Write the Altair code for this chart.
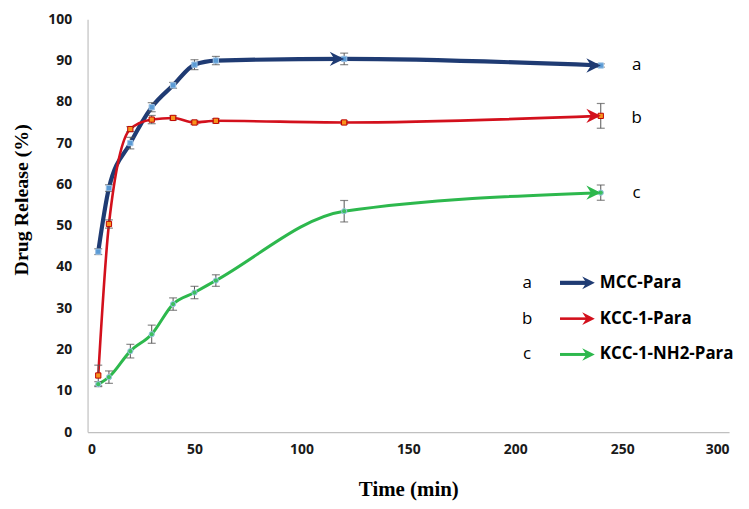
import altair as alt
import pandas as pd

# ---- data ----
time = [5, 10, 20, 30, 40, 50, 60, 120, 240]

series_names = ["MCC-Para", "KCC-1-Para", "KCC-1-NH2-Para"]
series_letters = ["a", "b", "c"]

mcc_release = [43.7, 59.1, 70.0, 78.7, 84.0, 89.0, 90.0, 90.4, 88.8]
mcc_err = [0.7, 0.8, 1.4, 1.1, 0.7, 1.2, 1.0, 1.4, 0.4]

kcc_release = [13.7, 50.4, 73.4, 75.7, 76.1, 75.0, 75.4, 75.0, 76.6]
kcc_err = [2.5, 1.0, 0.6, 1.0, 0.5, 0.5, 0.5, 0.4, 3.0]

nh2_release = [11.6, 13.3, 19.6, 23.7, 31.0, 33.8, 36.7, 53.5, 58.0]
nh2_err = [0.6, 1.5, 1.65, 2.2, 1.5, 1.5, 1.4, 2.6, 1.85]

arrow_times = [[120, 240], [240], [240]]

x_ticks = [0, 50, 100, 150, 200, 250, 300]
y_ticks = [0, 10, 20, 30, 40, 50, 60, 70, 80, 90, 100]

# ---- styles ----
line_colors = ["#1F3B73", "#D3101C", "#2DB84D"]
line_widths = [4.2, 2.6, 3.0]
marker_fill = ["#5B9BD5", "#F7941D", "#3CC060"]
marker_stroke = ["#9DC3E6", "#C00000", "#9DC3E6"]
marker_shape = ["square", "square", "circle"]
ARROW = "M0,0 L-2,-1 L-1.35,0 L-2,1 Z"

W, H = 645, 415

xs = alt.Scale(domain=[0, 300], nice=False)
ys = alt.Scale(domain=[0, 100], nice=False)

values = [mcc_release, kcc_release, nh2_release]
errs = [mcc_err, kcc_err, nh2_err]

X = alt.X("t:Q", scale=xs, title="Time (min)",
          axis=alt.Axis(values=x_ticks))
Y = alt.Y("v:Q", scale=ys, title="Drug Release (%)",
          axis=alt.Axis(values=y_ticks))

layers = []
for i, name in enumerate(series_names):
    df = pd.DataFrame({
        "t": time,
        "v": values[i],
        "lo": [v - e for v, e in zip(values[i], errs[i])],
        "hi": [v + e for v, e in zip(values[i], errs[i])],
    })
    base = alt.Chart(df)
    line = base.mark_line(interpolate="monotone", color=line_colors[i],
                          strokeWidth=line_widths[i]).encode(x=X, y=Y)
    rule = base.mark_rule(color="#555555", strokeWidth=1).encode(
        x="t:Q", y="lo:Q", y2="hi:Q")
    cap_lo = base.mark_tick(orient="horizontal", size=8, thickness=1.2,
                            color="#555555").encode(x="t:Q", y="lo:Q")
    cap_hi = base.mark_tick(orient="horizontal", size=8, thickness=1.2,
                            color="#555555").encode(x="t:Q", y="hi:Q")
    pts = base.mark_point(shape=marker_shape[i], filled=True, size=28,
                          fill=marker_fill[i], stroke=marker_stroke[i],
                          strokeWidth=1, opacity=1).encode(x="t:Q", y="v:Q")
    adf = df[df["t"].isin(arrow_times[i])]
    arr = alt.Chart(adf).mark_point(shape=ARROW, filled=True, size=210,
                                    color=line_colors[i], opacity=1).encode(
        x="t:Q", y="v:Q")
    end = df.iloc[[-1]].assign(lab=series_letters[i])
    lab = alt.Chart(end).mark_text(align="center", baseline="middle", dx=36,
                                   dy=2 if i == 1 else 0,
                                   font="Open Sans", fontSize=17,
                                   color="#000000").encode(
        x="t:Q", y="v:Q", text="lab:N")
    layers += [line, rule, cap_lo, cap_hi, pts, arr, lab]

# ---- legend (annotation, pixel placed) ----
leg_y = [265, 301, 337]
for i, name in enumerate(series_names):
    d = pd.DataFrame({"letter": [series_letters[i]], "name": [name]})
    c = alt.Chart(d)
    layers.append(c.mark_text(align="center", baseline="middle",
                              font="Open Sans", fontSize=17, color="#000").encode(
        x=alt.value(442), y=alt.value(leg_y[i]), text="letter:N"))
    layers.append(c.mark_rule(color=line_colors[i],
                              strokeWidth=line_widths[i]).encode(
        x=alt.value(475), x2=alt.value(503), y=alt.value(leg_y[i])))
    layers.append(c.mark_point(shape=ARROW, filled=True, size=160,
                               color=line_colors[i], opacity=1).encode(
        x=alt.value(510), y=alt.value(leg_y[i])))
    layers.append(c.mark_text(align="left", baseline="middle",
                              font="Open Sans", fontWeight="bold", fontSize=17,
                              color="#000").encode(
        x=alt.value(515), y=alt.value(leg_y[i]), text="name:N"))

chart = alt.layer(*layers).properties(
    width=W, height=H,
    autosize=alt.AutoSizeParams(type="none"),
    padding={"left": 80, "top": 10, "right": 12, "bottom": 68},
).configure_view(stroke=None).configure_axis(
    grid=False, ticks=False, tickSize=0,
    domainColor="#C0C0C0", domainWidth=1.2,
    labelFont="Open Sans", labelFontWeight="bold", labelFontSize=14,
    labelColor="#1a1a1a",
    titleFont="Liberation Serif", titleFontWeight="bold", titleColor="#000",
).configure_axisY(
    labelPadding=16, titleFontSize=20, titleAngle=-90,
    titleX=-66, titleY=181, titleBaseline="middle", titleAlign="center",
).configure_axisX(
    labelPadding=11, titleFontSize=21, titlePadding=22,
)

chart.save("out.html", embed_options={"renderer": "svg", "actions": False})
